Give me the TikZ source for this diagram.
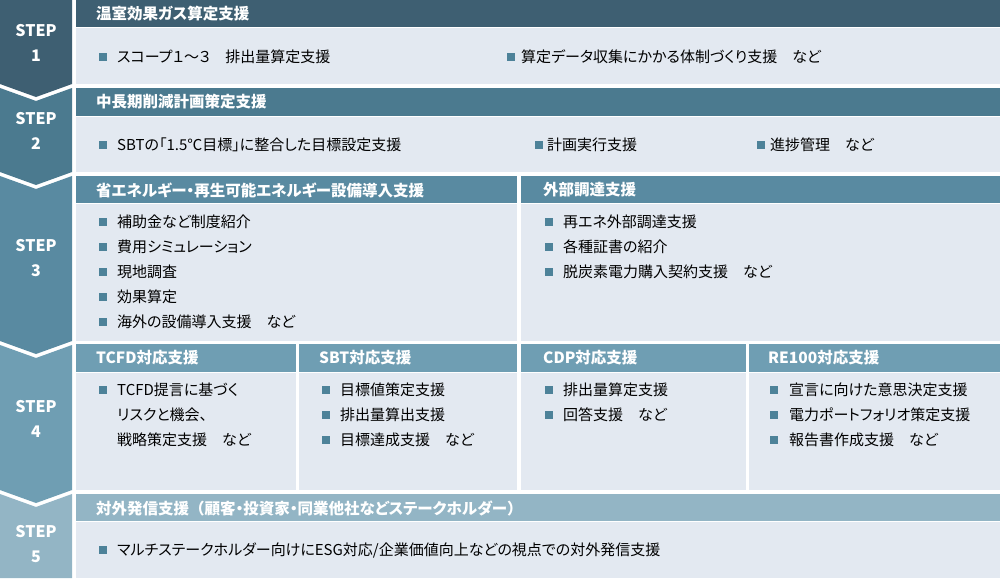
\documentclass[tikz,border=0pt]{standalone}
\usepackage{fontspec}
\setmainfont{Noto Sans CJK JP}[RawFeature=+palt]
\newfontfamily\stepfont{Noto Sans CJK JP}
\definecolor{cA}{HTML}{3E5F72}
\definecolor{cB}{HTML}{4B7A8F}
\definecolor{cC}{HTML}{598AA1}
\definecolor{cD}{HTML}{6F9EB3}
\definecolor{cE}{HTML}{93B5C5}
\definecolor{bg}{HTML}{E3E9F1}
\definecolor{bul}{HTML}{4D8299}
\begin{document}
\begin{tikzpicture}[x=1pt,y=-1pt,
  steplbl/.style={font=\stepfont\fontsize{16}{16}\selectfont\bfseries, text=white, inner sep=0pt},
  hdr/.style={font=\fontsize{15.5}{15.5}\selectfont\bfseries, text=white, anchor=west, inner sep=0pt},
  txt/.style={font=\fontsize{15}{15}\selectfont, text=black, anchor=west, inner sep=0pt},
  sq/.style={fill=bul, minimum size=8pt, inner sep=0pt, anchor=center}]
\useasboundingbox (0,0) rectangle (1000,578);
\fill[white] (0,0) rectangle (1000,578);
% step column
\fill[cA] (0,0)--(72,0)--(72,84)--(36,97)--(0,84)--cycle;
\fill[cB] (0,88)--(36,101)--(72,88)--(72,172)--(36,185)--(0,172)--cycle;
\fill[cC] (0,176)--(36,189)--(72,176)--(72,341)--(36,354)--(0,341)--cycle;
\fill[cD] (0,345)--(36,358)--(72,345)--(72,490)--(36,503)--(0,490)--cycle;
\fill[cE] (0,494)--(36,507)--(72,494)--(72,578)--(0,578)--cycle;
\node[steplbl] (s1a) at (36,31) {STEP};
\node[steplbl] (s1b) at (36,56) {1};
\node[steplbl] (s2a) at (36,119) {STEP};
\node[steplbl] (s2b) at (36,144) {2};
\node[steplbl] (s3a) at (36,246) {STEP};
\node[steplbl] (s3b) at (36,271) {3};
\node[steplbl] (s4a) at (36,407) {STEP};
\node[steplbl] (s4b) at (36,432) {4};
\node[steplbl] (s5a) at (36,532) {STEP};
\node[steplbl] (s5b) at (36,557) {5};
% row 1
\fill[cA] (76,0) rectangle (1000,27);
\fill[bg] (76,28) rectangle (1000,84);
\node[hdr] (h1) at (96,14) {温室効果ガス算定支援};
\node[sq] (b11) at (103,57) {};
\node[txt] (t11) at (117,57) {スコープ１～３　排出量算定支援};
\node[sq] (b12) at (511,57) {};
\node[txt] (t12) at (521,57) {算定データ収集にかかる体制づくり支援　など};
% row 2
\fill[cB] (76,88) rectangle (1000,116);
\fill[bg] (76,117) rectangle (1000,172);
\node[hdr] (h2) at (96,102) {中長期削減計画策定支援};
\node[sq] (b21) at (103,145) {};
\node[txt] (t21) at (117,145) {SBTの「1.5℃目標」に整合した目標設定支援};
\node[sq] (b22) at (539,145) {};
\node[txt] (t22) at (547,145) {計画実行支援};
\node[sq] (b23) at (761,145) {};
\node[txt] (t23) at (770,145) {進捗管理　など};
% row 3
\fill[cC] (76,176) rectangle (517,203);
\fill[cC] (521,176) rectangle (1000,203);
\fill[bg] (76,204) rectangle (517,341);
\fill[bg] (521,204) rectangle (1000,341);
\node[hdr] (h3a) at (96,190) {省エネルギー・再生可能エネルギー設備導入支援};
\node[hdr] (h3b) at (543,190) {外部調達支援};
\node[sq] (b31) at (103,222) {};
\node[txt] (t31) at (117,222) {補助金など制度紹介};
\node[sq] (b32) at (103,247) {};
\node[txt] (t32) at (117,247) {費用シミュレーション};
\node[sq] (b33) at (103,272) {};
\node[txt] (t33) at (117,272) {現地調査};
\node[sq] (b34) at (103,297) {};
\node[txt] (t34) at (117,297) {効果算定};
\node[sq] (b35) at (103,322) {};
\node[txt] (t35) at (117,322) {海外の設備導入支援　など};
\node[sq] (b36) at (549,222) {};
\node[txt] (t36) at (563,222) {再エネ外部調達支援};
\node[sq] (b37) at (549,247) {};
\node[txt] (t37) at (563,247) {各種証書の紹介};
\node[sq] (b38) at (549,272) {};
\node[txt] (t38) at (563,272) {脱炭素電力購入契約支援　など};
% row 4
\foreach \xa/\xb in {76/295.5, 298.5/517, 521/745.5, 748.5/1000} {
  \fill[cD] (\xa,344) rectangle (\xb,372);
  \fill[bg] (\xa,373) rectangle (\xb,490);
}
\node[hdr] (h4a) at (96,358) {TCFD対応支援};
\node[hdr] (h4b) at (319,358) {SBT対応支援};
\node[hdr] (h4c) at (543,358) {CDP対応支援};
\node[hdr] (h4d) at (768,358) {RE100対応支援};
\node[sq] (b41) at (103,390) {};
\node[txt] (t41) at (117,390) {TCFD提言に基づく};
\node[txt] (t42) at (117,415) {リスクと機会、};
\node[txt] (t43) at (117,440) {戦略策定支援　など};
\node[sq] (b44) at (326,390) {};
\node[txt] (t44) at (340,390) {目標値策定支援};
\node[sq] (b45) at (326,415) {};
\node[txt] (t45) at (340,415) {排出量算出支援};
\node[sq] (b46) at (326,440) {};
\node[txt] (t46) at (340,440) {目標達成支援　など};
\node[sq] (b47) at (549,390) {};
\node[txt] (t47) at (563,390) {排出量算定支援};
\node[sq] (b48) at (549,415) {};
\node[txt] (t48) at (563,415) {回答支援　など};
\node[sq] (b49) at (774,390) {};
\node[txt] (t49) at (789,390) {宣言に向けた意思決定支援};
\node[sq] (b4a) at (774,415) {};
\node[txt] (t4a) at (789,415) {電力ポートフォリオ策定支援};
\node[sq] (b4b) at (774,440) {};
\node[txt] (t4b) at (789,440) {報告書作成支援　など};
% row 5
\fill[cE] (76,494) rectangle (1000,521);
\fill[bg] (76,522) rectangle (1000,578);
\node[hdr] (h5) at (96,508) {対外発信支援{\addfontfeature{RawFeature=-palt}（}顧客・投資家・同業他社などステークホルダー{\addfontfeature{RawFeature=-palt}）}};
\node[sq] (b51) at (103,550) {};
\node[txt] (t51) at (117,550) {マルチステークホルダー向けにESG対応/企業価値向上などの視点での対外発信支援};
\end{tikzpicture}
\end{document}
